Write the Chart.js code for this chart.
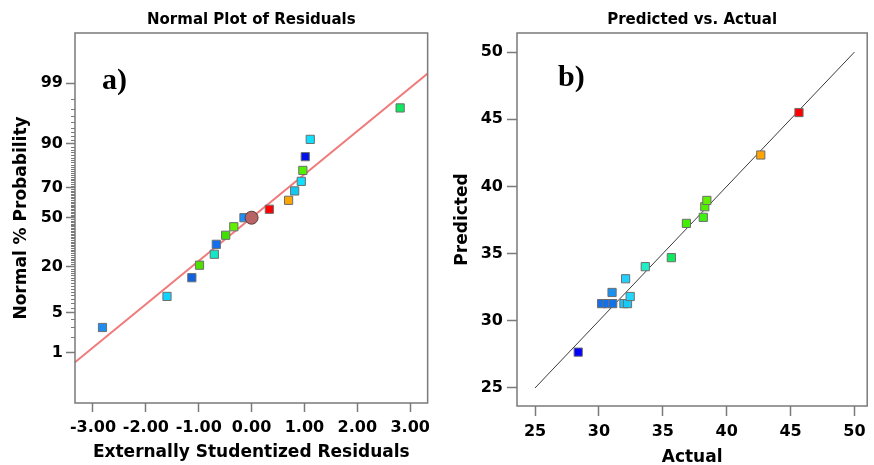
<!DOCTYPE html>
<html>
<head>
<meta charset="utf-8">
<script src="https://cdn.jsdelivr.net/npm/chart.js@4.4.1/dist/chart.umd.min.js"></script>
<style>
  html, body { margin: 0; padding: 0; background: #fff; }
  #wrap { display: flex; width: 874px; height: 465px; }
  .box { position: relative; width: 437px; height: 465px; }
</style>
</head>
<body>
<div id="wrap">
  <div class="box"><canvas id="normalPlot"></canvas></div>
  <div class="box"><canvas id="predActual"></canvas></div>
</div>
<script>
// a) normal plot of residuals
const residuals = [-2.82, -1.60, -1.13, -0.985, -0.705, -0.667, -0.49, -0.336, -0.144,
                   0.336, 0.70, 0.815, 0.94, 0.97, 1.015, 1.11, 2.81];
const normalProb = [2.9, 8.7, 15.0, 20.6, 26.4, 32.3, 38.1, 43.8, 50.0,
                    55.8, 61.8, 67.8, 73.5, 79.3, 85.4, 91.2, 97.1];
const residualColors = ['#1e8cf0', '#10d4ff', '#1060e0', '#50e000', '#10e8c8', '#1070f0', '#40e000', '#60f000', '#1890ff',
                        '#ff0000', '#ffa500', '#10c8f0', '#10e0ff', '#50f000', '#0010e8', '#10e0ff', '#10e860'];
const centerResidual = [0];
const centerProb = [50];
const fitResidual = [-3.34, 3.33];
const fitProb = [0.63, 99.36];
const residualTicks = [-3, -2, -1, 0, 1, 2, 3];
const probTicks = [1, 5, 20, 50, 70, 90, 99];

// b) predicted vs actual
const actual = [28.38, 30.21, 30.64, 31.08, 31.03, 31.96, 32.24, 32.45, 32.09,
                33.63, 35.67, 36.85, 38.17, 38.29, 38.45, 42.67, 45.66];
const predicted = [27.67, 31.28, 31.28, 31.28, 32.11, 31.28, 31.28, 31.81, 33.13,
                   34.03, 34.70, 37.25, 37.70, 38.49, 38.96, 42.34, 45.50];
const actualColors = ['#0000ff', '#1470e6', '#1470e6', '#1470e6', '#1a90f0', '#18c8f8', '#18c8f8', '#20d8ff', '#20d0ff',
                      '#20f0c8', '#10e860', '#40f000', '#40f010', '#50f000', '#60f000', '#ffa500', '#ff0000'];
const diagonal = [25, 50];
const actualTicks = [25, 30, 35, 40, 45, 50];
const predictedTicks = [25, 30, 35, 40, 45, 50];

const FONT = '"DejaVu Sans", Verdana, sans-serif';
const AXIS_GREY = '#7a7a7a';

// inverse normal CDF (Acklam) - the probability axis is linear in z
function probit(p) {
  const a = [-3.969683028665376e+01, 2.209460984245205e+02, -2.759285104469687e+02, 1.383577518672690e+02, -3.066479806614716e+01, 2.506628277459239e+00];
  const b = [-5.447609879822406e+01, 1.615858368580409e+02, -1.556989798598866e+02, 6.680131188771972e+01, -1.328068155288572e+01];
  const c = [-7.784894002430293e-03, -3.223964580411365e-01, -2.400758277161838e+00, -2.549732539343734e+00, 4.374664141464968e+00, 2.938163982698783e+00];
  const d = [7.784695709041462e-03, 3.224671290700398e-01, 2.445134137142996e+00, 3.754408661907416e+00];
  const pl = 0.02425;
  let q, r;
  if (p < pl) {
    q = Math.sqrt(-2 * Math.log(p));
    return (((((c[0]*q+c[1])*q+c[2])*q+c[3])*q+c[4])*q+c[5]) / ((((d[0]*q+d[1])*q+d[2])*q+d[3])*q+1);
  }
  if (p > 1 - pl) {
    q = Math.sqrt(-2 * Math.log(1 - p));
    return -(((((c[0]*q+c[1])*q+c[2])*q+c[3])*q+c[4])*q+c[5]) / ((((d[0]*q+d[1])*q+d[2])*q+d[3])*q+1);
  }
  q = p - 0.5; r = q * q;
  return (((((a[0]*r+a[1])*r+a[2])*r+a[3])*r+a[4])*r+a[5])*q / (((((b[0]*r+b[1])*r+b[2])*r+b[3])*r+b[4])*r+1);
}

function toPoints(xs, ys) {
  return xs.map((x, i) => ({ x: x, y: ys[i] }));
}

// frame, chart title, panel letter and minor prob ticks
const framePlugin = {
  id: 'frame',
  afterDraw(chart, args, opts) {
    const { ctx, chartArea: a } = chart;
    ctx.save();
    if (opts.minorTicks) {
      const ys = chart.scales.y;
      ctx.strokeStyle = AXIS_GREY;
      ctx.lineWidth = 1;
      ctx.beginPath();
      for (let p = 1; p <= 99; p++) {
        if (probTicks.includes(p)) continue;
        const py = Math.round(ys.getPixelForValue(probit(p / 100))) + 0.5;
        ctx.moveTo(a.left - 4, py);
        ctx.lineTo(a.left, py);
      }
      ctx.stroke();
    }
    ctx.strokeStyle = AXIS_GREY;
    ctx.lineWidth = 1.5;
    ctx.strokeRect(a.left, a.top, a.right - a.left, a.bottom - a.top);

    ctx.fillStyle = '#000';
    ctx.textAlign = 'center';
    ctx.textBaseline = 'middle';
    ctx.font = 'bold 15px ' + FONT;
    ctx.fillText(opts.title, (a.left + a.right) / 2, 20);

    ctx.textAlign = 'left';
    ctx.font = 'bold 30px "Liberation Serif", "Times New Roman", serif';
    ctx.fillText(opts.letter, a.left + opts.letterDx, a.top + opts.letterDy);
    ctx.restore();
  }
};

function axisOpts(ticks, fmt, tickLen, size, titleText, titlePad, min, max) {
  return {
    type: 'linear',
    min: min,
    max: max,
    afterBuildTicks: s => { s.ticks = ticks.map(v => ({ value: v })); },
    afterFit: s => { if (s.isHorizontal()) s.height = size; else s.width = size; },
    border: { display: false },
    grid: { drawOnChartArea: false, tickLength: tickLen, tickColor: AXIS_GREY, tickWidth: 1.5 },
    ticks: {
      autoSkip: false, maxRotation: 0, color: '#000',
      font: { family: FONT, size: 16, weight: 'bold', lineHeight: 1.2 },
      callback: fmt
    },
    title: {
      display: true, text: titleText, color: '#000', padding: titlePad,
      font: { family: FONT, size: 17, weight: 'bold', lineHeight: 0.9 }
    }
  };
}

// chart a
const xA = axisOpts(residualTicks, v => v.toFixed(2), 9, 62, 'Externally Studentized Residuals', { bottom: 4.6 }, -3.34, 3.33);
xA.ticks.padding = 6.7;
const yA = axisOpts(probTicks.map(p => probit(p / 100)), (v, i) => probTicks[i], 9, 75, 'Normal % Probability', { top: 13.8 }, -3.2, 3.19);
yA.ticks.padding = 3;

new Chart(document.getElementById('normalPlot'), {
  type: 'scatter',
  data: {
    datasets: [
      {
        data: toPoints(centerResidual, centerProb.map(p => probit(p / 100))),
        pointStyle: 'circle', pointRadius: 6.5,
        backgroundColor: '#b86464', borderColor: '#5a3a3a', borderWidth: 1
      },
      {
        data: toPoints(residuals, normalProb.map(p => probit(p / 100))),
        pointStyle: 'rect', pointRadius: 5.8,
        backgroundColor: residualColors, borderColor: '#6e6e6e', borderWidth: 1
      },
      {
        type: 'line',
        data: toPoints(fitResidual, fitProb.map(p => probit(p / 100))),
        borderColor: '#f07a7a', borderWidth: 2, pointRadius: 0, fill: false
      }
    ]
  },
  options: {
    responsive: true, maintainAspectRatio: false, animation: false,
    layout: { padding: { top: 33, right: 5, left: 0, bottom: 0 } },
    plugins: {
      legend: { display: false }, tooltip: { enabled: false },
      frame: { title: 'Normal Plot of Residuals', letter: 'a)', letterDx: 27, letterDy: 48, minorTicks: true }
    },
    scales: { x: xA, y: yA }
  },
  plugins: [framePlugin]
});

// chart b
const xB = axisOpts(actualTicks, v => v, 10, 59, 'Actual', { bottom: 0 }, 23.59, 51.0);
xB.ticks.padding = 6.7;
const yB = axisOpts(predictedTicks, v => v, 10, 80, 'Predicted', { top: 17.8 }, 23.66, 51.42);
yB.ticks.padding = 4;

new Chart(document.getElementById('predActual'), {
  type: 'scatter',
  data: {
    datasets: [
      {
        data: toPoints(actual, predicted),
        pointStyle: 'rect', pointRadius: 5.8,
        backgroundColor: actualColors, borderColor: '#6e6e6e', borderWidth: 1
      },
      {
        type: 'line',
        data: toPoints(diagonal, diagonal),
        borderColor: '#3a3a3a', borderWidth: 1, pointRadius: 0, fill: false
      }
    ]
  },
  options: {
    responsive: true, maintainAspectRatio: false, animation: false,
    layout: { padding: { top: 33, right: 2, left: 0, bottom: 0 } },
    plugins: {
      legend: { display: false }, tooltip: { enabled: false },
      frame: { title: 'Predicted vs. Actual', letter: 'b)', letterDx: 41, letterDy: 45, minorTicks: false }
    },
    scales: { x: xB, y: yB }
  },
  plugins: [framePlugin]
});
</script>
</body>
</html>
